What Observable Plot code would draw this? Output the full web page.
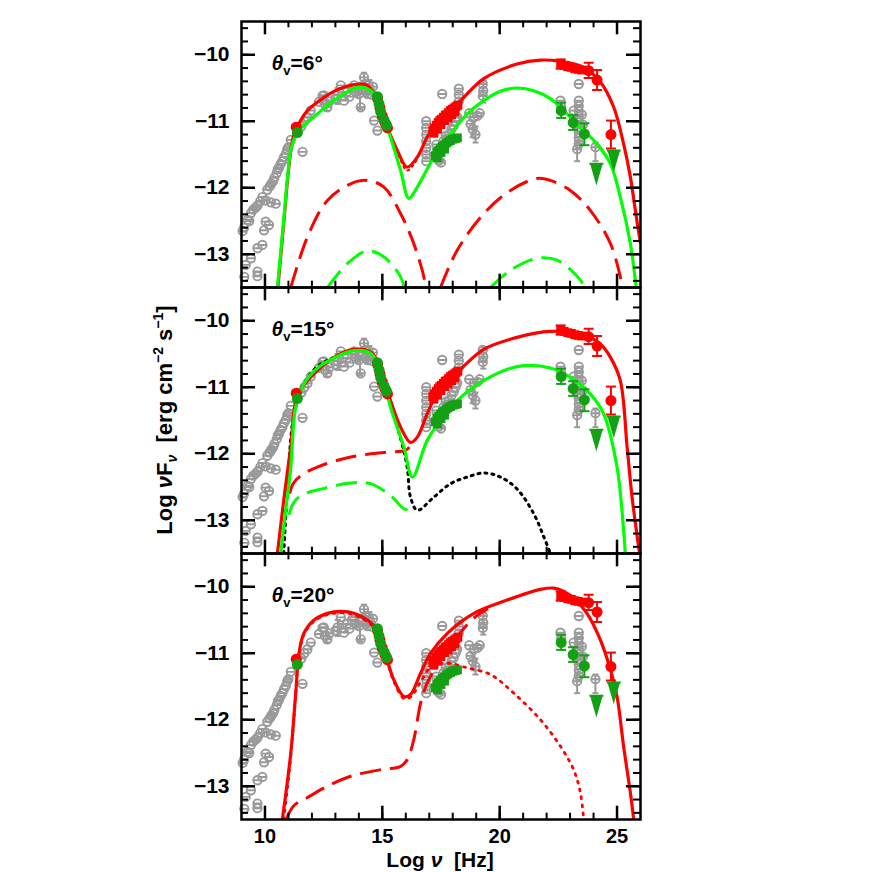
<!DOCTYPE html>
<html><head><meta charset="utf-8">
<script src="https://cdn.jsdelivr.net/npm/d3@7"></script>
<script src="https://cdn.jsdelivr.net/npm/@observablehq/plot@0.6"></script>
<style>body{margin:0;background:#fff;} #chart{width:872px;height:872px;}</style>
</head><body><div id="chart"></div>
<script>
// ---------- DATA ----------
const panels = ["6", "15", "20"];               // viewing angle θv (deg) per panel
const xTickLabels = [10, 15, 20, 25];
const yTickLabels = [-13, -12, -11, -10];
const xMinorTicks = [10,11,12,13,14,15,16,17,18,19,20,21,22,23,24,25];
const yMinorTicks = [-13.4,-13.2,-13,-12.8,-12.6,-12.4,-12.2,-12,-11.8,-11.6,-11.4,-11.2,-11,-10.8,-10.6,-10.4,-10.2,-10,-9.8,-9.6];

// archival data (grey)
const greyPts = [
  [9.05,-12.65],[9.11,-12.6],[9.18,-13.16],[9.12,-13.34],[9.26,-12.48],[9.33,-12.5],[9.4,-12.38],[9.4,-13.06],[9.5,-12.33],
  [9.6,-12.3],[9.68,-12.27],[9.68,-12.91],[9.68,-13.26],[9.68,-13.33],[9.8,-12.2],[9.89,-12.14],[9.89,-12.86],[9.96,-12.64],
  [10.03,-12.51],[10.03,-12.19],[10.1,-12.03],[10.17,-12.56],[10.2,-11.98],[10.25,-12.22],[10.27,-11.94],[10.35,-11.9],
  [10.4,-11.85],[10.46,-12.24],[10.5,-11.78],[10.55,-11.72],[10.6,-11.7],[10.67,-11.64],[10.74,-11.6],[10.81,-11.54],
  [10.89,-11.49],[10.95,-11.42],[11.0,-11.39],[11.1,-11.28],[11.6,-11.46],[11.55,-11.08],[11.68,-11.0],[11.81,-10.94],
  [11.95,-10.84],[12.3,-10.71],[12.45,-10.62],[12.51,-10.61],[12.55,-10.74],[12.66,-10.79],[12.75,-10.7],[13.0,-10.66],
  [13.09,-10.61],[13.23,-10.46],[13.3,-10.62],[13.37,-10.69],[13.5,-10.56],[13.6,-10.63],[13.7,-10.5],[13.8,-10.46],
  [13.87,-10.56],[14.0,-10.59],[14.05,-10.48],[14.08,-10.79],[14.15,-10.52],[14.22,-10.34],[14.28,-10.44],[14.3,-10.56],
  [14.37,-10.59],[14.42,-10.46],[14.48,-10.52],[14.55,-10.6],[14.6,-10.48],[14.65,-10.99],[14.79,-11.14],
  [16.87,-11.0],[16.87,-11.1],[16.87,-11.2],[16.87,-11.3],[16.87,-11.4],[16.87,-11.5],[16.87,-11.6],
  [17.55,-10.59],[17.41,-11.59],[17.48,-11.39],[17.6,-11.3],[17.7,-11.22],[17.83,-11.2],[17.95,-11.12],[18.04,-11.07],
  [18.12,-11.0],[18.19,-10.94],[18.26,-10.51],[18.26,-10.6],[18.26,-10.7],[17.3,-11.35],[17.5,-11.62],
  [18.7,-10.88],[18.76,-11.04],[18.85,-11.12],[18.9,-10.94],[18.97,-11.2],[19.05,-10.92],[19.15,-10.88],
  [19.28,-10.44],[19.3,-10.54],[19.28,-10.62],
  [22.59,-10.69],[22.62,-10.78],[23.15,-10.84],[23.37,-10.44],[23.37,-10.69],[23.37,-10.77],[23.37,-10.85],[23.37,-10.93],
  [23.37,-11.01],[23.37,-11.09],[23.37,-11.17],[23.37,-11.25],[23.37,-11.34],[23.3,-11.42],[23.5,-10.9],[23.55,-11.05],
  [24.08,-11.39]
];
const greyErr = [
  [13.1,-10.5,-10.74],[14.22,-10.27,-10.44],[14.05,-10.58,-10.82],[12.62,-10.68,-10.84],[14.45,-10.38,-10.58],
  [18.97,-11.08,-11.32],[18.85,-11.0,-11.24],[19.3,-10.4,-10.72],[23.3,-11.3,-11.6],[24.08,-11.32,-11.6]
];

// simultaneous data (red: high state, green: low state)
const redSquares = [
  [17.15,-11.14],[17.22,-11.1],[17.3,-11.06],[17.38,-11.02],[17.45,-10.99],[17.52,-10.97],[17.6,-10.94],[17.68,-10.91],
  [17.75,-10.9],[17.82,-10.87],[17.9,-10.84],[17.98,-10.82],[18.06,-10.8],[18.14,-10.78],[18.22,-10.76],
  [17.2,-11.18],[17.35,-11.12],[17.5,-11.05],[17.65,-10.99],[17.8,-10.95],[17.95,-10.9],[18.1,-10.86],
  [22.6,-10.14],[22.75,-10.16],[22.9,-10.18],[23.05,-10.19],[23.2,-10.21],[23.35,-10.22],[23.5,-10.23]
];
const redCircles = [[11.33,-11.09],[14.8,-10.66],[14.9,-10.8],[15.0,-10.92],[15.12,-11.03],[15.22,-11.1],[23.79,-10.24],[24.15,-10.38],[24.74,-11.2]];
const redErr = [[22.6,-10.07,-10.21],[23.79,-10.12,-10.35],[24.15,-10.23,-10.53],[24.74,-10.99,-11.41]];

const greenSquares = [
  [17.25,-11.52],[17.32,-11.47],[17.4,-11.44],[17.48,-11.41],[17.56,-11.38],[17.64,-11.36],[17.72,-11.33],[17.8,-11.31],
  [17.9,-11.29],[18.0,-11.27],[18.1,-11.26],[18.2,-11.25],[17.35,-11.55],[17.5,-11.47],[17.65,-11.42]
];
const greenCircles = [[11.38,-11.17],[14.79,-10.63],[14.86,-10.74],[14.93,-10.86],[15.07,-10.98],[15.18,-11.06],[22.62,-10.84],[23.13,-11.02],[23.61,-11.19]];
const greenErr = [[22.62,-10.72,-10.95],[23.13,-10.91,-11.13],[23.61,-11.03,-11.36]];
const greenUL = [[24.12,-11.64],[24.86,-11.44]];

// model curves, panel θv=6°
const m6RedSolid = [[10.55,-13.5],[10.82,-12.45],[10.97,-11.85],[11.12,-11.4],[11.25,-11.18],[11.5,-11.0],[11.81,-10.84],[12.52,-10.64],[13.0,-10.54],[13.65,-10.46],[14.36,-10.46],[14.79,-10.69],[15.21,-11.09],[15.64,-11.44],[16.06,-11.69],[16.49,-11.54],[16.91,-11.24],[17.48,-10.94],[18.19,-10.74],[19.32,-10.36],[20.74,-10.14],[21.74,-10.08],[22.59,-10.1],[23.58,-10.19],[24.29,-10.41],[24.86,-10.79],[25.28,-11.34],[25.57,-11.84],[25.78,-12.34],[26.0,-12.84]];
const m6RedDotted = [[15.3,-11.18],[15.7,-11.52],[16.05,-11.74],[16.4,-11.62],[16.8,-11.32]];
const m6GreenSolid = [[10.53,-13.5],[10.81,-12.44],[10.96,-11.84],[11.1,-11.44],[11.38,-11.17],[12.23,-10.89],[12.94,-10.69],[13.94,-10.49],[14.5,-10.54],[14.93,-10.79],[15.35,-11.24],[15.78,-11.74],[16.13,-12.16],[16.49,-11.99],[17.2,-11.54],[17.91,-11.19],[18.62,-10.89],[19.32,-10.69],[20.03,-10.55],[20.74,-10.5],[21.45,-10.54],[22.16,-10.66],[22.87,-10.89],[23.58,-11.14],[24.15,-11.34],[24.72,-11.64],[25.14,-12.14],[25.57,-12.84],[25.78,-13.39],[25.82,-13.5]];
const m6RedDashA = [[11.1,-13.5],[11.81,-12.74],[12.66,-12.19],[13.65,-11.94],[14.36,-11.89],[15.07,-11.99],[15.78,-12.39],[16.34,-12.84],[16.77,-13.34],[16.84,-13.5]];
const m6RedDashB = [[17.48,-13.5],[18.19,-12.94],[19.32,-12.39],[20.46,-12.04],[21.6,-11.86],[22.16,-11.89],[23.01,-12.04],[23.86,-12.34],[24.72,-12.84],[25.21,-13.44],[25.25,-13.5]];
const m6GreenDashA = [[12.66,-13.5],[13.51,-13.14],[14.36,-12.95],[15.07,-13.04],[15.78,-13.34],[15.92,-13.5]];
const m6GreenDashB = [[19.61,-13.5],[20.46,-13.24],[21.6,-13.06],[22.45,-13.09],[23.44,-13.39],[23.6,-13.5]];

// model curves, panel θv=15°
const m15RedSolid = [[10.53,-13.5],[10.8,-12.7],[11.1,-11.89],[11.38,-11.13],[11.95,-10.85],[12.94,-10.55],[13.79,-10.43],[14.5,-10.47],[14.93,-10.7],[15.35,-11.2],[15.78,-11.6],[16.2,-11.83],[16.49,-11.75],[16.91,-11.4],[17.48,-11.0],[18.33,-10.73],[19.32,-10.43],[20.74,-10.25],[22.16,-10.16],[23.58,-10.21],[24.29,-10.35],[24.72,-10.55],[25.14,-10.9],[25.43,-11.9],[25.64,-12.65],[25.92,-13.4],[25.96,-13.5]];
const m15GreenSolid = [[10.67,-13.5],[10.9,-12.8],[11.1,-12.2],[11.31,-11.3],[11.66,-10.95],[12.2,-10.72],[12.94,-10.56],[13.79,-10.45],[14.5,-10.49],[14.93,-10.73],[15.35,-11.3],[15.92,-11.9],[16.28,-12.35],[16.91,-11.8],[17.48,-11.5],[18.19,-11.2],[19.32,-10.9],[20.74,-10.69],[22.16,-10.71],[23.01,-10.85],[23.86,-11.1],[24.43,-11.4],[25.0,-12.2],[25.28,-13.15],[25.35,-13.5]];
const m15RedDash = [[11.05,-12.6],[11.2,-12.45],[11.52,-12.33],[12.23,-12.2],[13.65,-12.05],[15.07,-11.98],[15.99,-11.95],[16.15,-11.9]];
const m15GreenDash = [[11.03,-12.92],[11.2,-12.75],[11.52,-12.63],[12.52,-12.52],[13.65,-12.44],[14.5,-12.45],[15.35,-12.63],[15.99,-12.84],[16.15,-12.8]];
const m15BlackDot = [[10.8,-13.5],[10.96,-12.5],[11.15,-11.6],[11.31,-11.3],[11.66,-10.95],[12.2,-10.7],[12.94,-10.55],[13.79,-10.44],[14.5,-10.48],[14.93,-10.72],[15.35,-11.25],[15.8,-11.8],[16.06,-12.2],[16.2,-12.65],[16.49,-12.85],[17.2,-12.65],[17.91,-12.45],[18.62,-12.35],[19.32,-12.29],[20.03,-12.35],[20.74,-12.53],[21.45,-12.9],[21.88,-13.25],[22.16,-13.5]];

// model curves, panel θv=20°
const m20RedSolid = [[10.74,-13.5],[11.1,-12.5],[11.31,-11.6],[11.45,-11.0],[11.66,-10.7],[12.09,-10.5],[12.66,-10.4],[13.23,-10.37],[13.79,-10.4],[14.64,-10.59],[15.07,-10.95],[15.49,-11.4],[15.92,-11.65],[16.2,-11.62],[16.63,-11.3],[17.06,-11.0],[17.77,-10.7],[18.9,-10.4],[20.32,-10.2],[21.74,-10.04],[22.3,-10.02],[22.73,-10.07],[23.15,-10.17],[23.72,-10.4],[24.29,-10.8],[24.72,-11.25],[25.0,-11.65],[25.28,-12.4],[25.57,-13.1],[25.71,-13.5]];
const m20RedDotted = [[10.8,-13.5],[11.1,-12.55],[11.31,-11.62],[11.45,-11.02],[11.66,-10.72],[12.09,-10.52],[12.66,-10.42],[13.23,-10.39],[13.79,-10.42],[14.64,-10.61],[15.07,-10.97],[15.49,-11.42],[15.92,-11.68],[16.2,-11.66],[16.6,-11.45],[17.1,-11.2],[17.8,-11.15],[18.62,-11.22],[19.61,-11.32],[20.6,-11.6],[21.74,-12.0],[22.59,-12.4],[23.15,-12.75],[23.44,-13.1],[23.58,-13.5]];
const m20RedDash = [[10.9,-13.5],[11.24,-13.29],[11.81,-13.17],[12.66,-13.0],[13.65,-12.85],[14.93,-12.75],[15.78,-12.7],[16.06,-12.6],[16.34,-12.3],[16.63,-11.75],[16.91,-11.45],[17.48,-11.1],[18.19,-10.75],[18.9,-10.47],[19.5,-10.33]];

// ---------- STYLE / BUILD ----------
const RED = "#ff0000", LIME = "#00ff00", DGREEN = "#14a014", GREY = "#999999";
const W = 872, H = 872, mL = 241, mR = 232, mT = 20, mB = 52;
const frameW = W - mL - mR, panelH = (H - mT - mB) / 3;
const FONT = "'Liberation Sans', Arial, sans-serif";

const models = [
  {panel: "6", pts: m6RedDotted, stroke: RED, dash: "2,4", w: 2},
  {panel: "6", pts: m6RedDashA, stroke: RED, dash: "21,9", w: 3},
  {panel: "6", pts: m6RedDashB, stroke: RED, dash: "21,9", w: 3},
  {panel: "6", pts: m6GreenDashA, stroke: LIME, dash: "21,9", w: 3},
  {panel: "6", pts: m6GreenDashB, stroke: LIME, dash: "21,9", w: 3},
  {panel: "6", pts: m6RedSolid, stroke: RED, dash: null, w: 3.2},
  {panel: "6", pts: m6GreenSolid, stroke: LIME, dash: null, w: 3.2},
  {panel: "15", pts: m15BlackDot, stroke: "#000", dash: "2,5", w: 3},
  {panel: "15", pts: m15RedDash, stroke: RED, dash: "21,9", w: 3},
  {panel: "15", pts: m15GreenDash, stroke: LIME, dash: "21,9", w: 3},
  {panel: "15", pts: m15RedSolid, stroke: RED, dash: null, w: 3.2},
  {panel: "15", pts: m15GreenSolid, stroke: LIME, dash: null, w: 3.2},
  {panel: "20", pts: m20RedDotted, stroke: RED, dash: "2,6", w: 2.8},
  {panel: "20", pts: m20RedDash, stroke: RED, dash: "21,9", w: 3},
  {panel: "20", pts: m20RedSolid, stroke: RED, dash: null, w: 3.2}
];

const thetaSym = {draw(ctx, size) { const r = Math.sqrt(size / Math.PI); ctx.moveTo(r, 0); ctx.arc(0, 0, r, 0, 2 * Math.PI); ctx.moveTo(-r, 0); ctx.lineTo(r, 0); }};
const capSym = {draw(ctx, size) { const r = Math.sqrt(size / Math.PI); ctx.moveTo(-r, 0); ctx.lineTo(r, 0); }};
const ulSym = {draw(ctx, size) { const r = Math.sqrt(size / Math.PI); ctx.moveTo(-r, 0); ctx.lineTo(r, 0); ctx.moveTo(-0.75 * r, 0); ctx.lineTo(0.75 * r, 0); ctx.lineTo(0, 2.6 * r); ctx.closePath(); }};

const X = d => d[0], Y = d => d[1];
const errMarks = (arr, color, capR) => [
  Plot.ruleX(arr, {x: X, y1: d => d[1], y2: d => d[2], stroke: color, strokeWidth: 2}),
  Plot.dot(arr, {x: X, y: d => d[1], symbol: capSym, r: capR, stroke: color, strokeWidth: 2}),
  Plot.dot(arr, {x: X, y: d => d[2], symbol: capSym, r: capR, stroke: color, strokeWidth: 2})
];

const marks = [
  ...errMarks(greyErr, GREY, 3),
  Plot.dot(greyPts, {x: X, y: Y, symbol: thetaSym, r: 4.2, stroke: GREY, fill: "none", strokeWidth: 1.9}),
  ...models.map(m => Plot.line(m.pts, {x: X, y: Y, fy: () => m.panel, stroke: m.stroke, strokeWidth: m.w,
      strokeDasharray: m.dash, curve: "catmull-rom", clip: true, strokeLinecap: m.dash && m.dash.startsWith("2,") ? "round" : "butt"})),
  ...errMarks(redErr, RED, 5),
  Plot.dot(redSquares, {x: X, y: Y, symbol: "square", r: 5, fill: RED}),
  Plot.dot(redCircles, {x: X, y: Y, r: 5.5, fill: RED}),
  ...errMarks(greenErr, DGREEN, 5),
  Plot.dot(greenSquares, {x: X, y: Y, symbol: "square", r: 5, fill: DGREEN}),
  Plot.dot(greenCircles, {x: X, y: Y, r: 5.5, fill: DGREEN}),
  Plot.dot(greenUL, {x: X, y: Y, symbol: ulSym, r: 7, fill: DGREEN, stroke: DGREEN, strokeWidth: 2}),
  Plot.frame({stroke: "#000", strokeWidth: 2.5}),
  // inward ticks on all four sides
  Plot.tickX(xMinorTicks, {x: d => d, insetBottom: panelH - 7, strokeWidth: 2}),
  Plot.tickX(xMinorTicks, {x: d => d, insetTop: panelH - 7, strokeWidth: 2}),
  Plot.tickX(xTickLabels, {x: d => d, insetBottom: panelH - 14, strokeWidth: 2.5}),
  Plot.tickX(xTickLabels, {x: d => d, insetTop: panelH - 14, strokeWidth: 2.5}),
  Plot.tickY(yMinorTicks, {y: d => d, insetRight: frameW - 7, strokeWidth: 2}),
  Plot.tickY(yMinorTicks, {y: d => d, insetLeft: frameW - 7, strokeWidth: 2}),
  Plot.tickY(yTickLabels, {y: d => d, insetRight: frameW - 14, strokeWidth: 2.5}),
  Plot.tickY(yTickLabels, {y: d => d, insetLeft: frameW - 14, strokeWidth: 2.5}),
  Plot.axisY({ticks: yTickLabels, tickSize: 0, tickPadding: 12, label: null, tickFormat: d => "\u2212" + Math.abs(d)}),
  Plot.axisX({ticks: xTickLabels, tickSize: 0, tickPadding: 9, label: null, fontSize: 20}),
  Plot.text(panels, {fy: d => d, text: d => "θv=" + d + "°", frameAnchor: "top-left", dx: 30, dy: 42,
      textAnchor: "start", lineAnchor: "middle", fontSize: 21, fontWeight: "bold"})
];

const svg = Plot.plot({
  width: W, height: H, marginLeft: mL, marginRight: mR, marginTop: mT, marginBottom: mB,
  x: {domain: [9, 26]},
  y: {domain: [-13.5, -9.5]},
  fy: {domain: panels, padding: 0, axis: null},
  style: {fontFamily: FONT, fontSize: "21px", fontWeight: "bold", background: "#fff", color: "#000"},
  marks
});

// panel labels with subscript v
d3.select(svg).selectAll("text").each(function () {
  const t = this.textContent;
  if (t.startsWith("θv=")) {
    const rest = t.slice(2);
    const s = d3.select(this); s.text("");
    s.append("tspan").attr("font-style", "italic").text("θ");
    s.append("tspan").attr("font-size", 13).attr("dy", 5).text("v");
    s.append("tspan").attr("dy", -5).text(rest);
  }
});

// axis titles
const g = d3.select(svg).append("g").attr("font-family", FONT).attr("font-weight", "bold").attr("fill", "#000");
g.append("text").attr("x", 440).attr("y", 867).attr("text-anchor", "middle").attr("font-size", 21)
  .call(t => { t.append("tspan").text("Log "); t.append("tspan").attr("font-style", "italic").text("ν"); t.append("tspan").text("  [Hz]"); });
const yl = g.append("text").attr("transform", "translate(172,420) rotate(-90)").attr("text-anchor", "middle").attr("font-size", 22);
yl.append("tspan").text("Log ");
yl.append("tspan").attr("font-style", "italic").text("ν");
yl.append("tspan").text("F");
yl.append("tspan").attr("font-size", 14).attr("dy", 5).attr("font-style", "italic").text("ν");
yl.append("tspan").attr("dy", -5).text("  [erg cm");
yl.append("tspan").attr("font-size", 14).attr("dy", -9).text("−2");
yl.append("tspan").attr("dy", 9).text(" s");
yl.append("tspan").attr("font-size", 14).attr("dy", -9).text("−1");
yl.append("tspan").attr("dy", 9).text("]");

document.getElementById("chart").appendChild(svg);
</script>
</body></html>
